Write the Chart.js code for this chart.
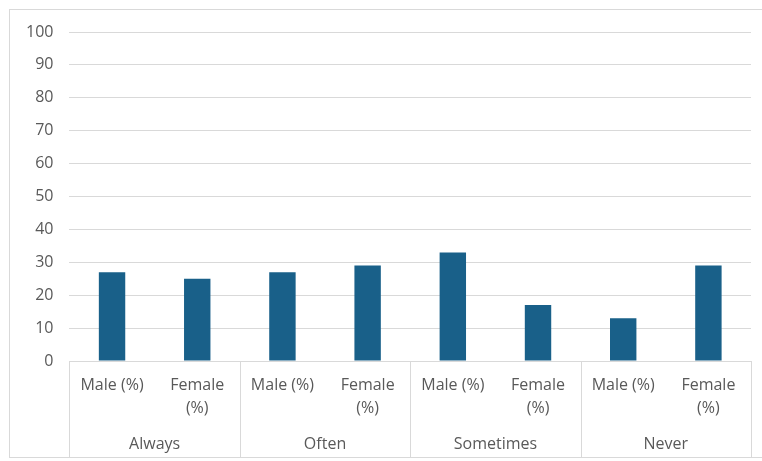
<!DOCTYPE html>
<html>
<head>
<meta charset="utf-8">
<script src="https://cdn.jsdelivr.net/npm/chart.js@4"></script>
<style>
  html, body { margin: 0; padding: 0; background: #fff; }
  #frame {
    position: absolute; left: 9px; top: 9px;
    width: 770px; height: 449px;
    border: 1px solid #d9d9d9;
    box-sizing: border-box;
  }
  #wrap { position: absolute; left: 0; top: 0; width: 762px; height: 461px; }
</style>
</head>
<body>
<div id="frame"></div>
<div id="wrap"><canvas id="freqChart" width="762" height="461"></canvas></div>
<script>
const groups = ['Always', 'Often', 'Sometimes', 'Never'];
const subLabels = [['Male (%)'], ['Female', '(%)']];
const maleValues = [27, 27, 33, 13];
const femaleValues = [25, 29, 17, 29];
const yTicks = [0, 10, 20, 30, 40, 50, 60, 70, 80, 90, 100];

// flatten group/sex into one category axis
const labels = [];
const values = [];
groups.forEach((g, i) => {
    labels.push(subLabels[0]);
    values.push(maleValues[i]);
    labels.push(subLabels[1]);
    values.push(femaleValues[i]);
});

const textColor = '#595959';
const font = { family: "'Open Sans', 'Noto Sans', sans-serif", size: 16, lineHeight: 1.45 };

// group labels and separators under the category axis
const groupAxis = {
    id: 'groupAxis',
    afterDraw(chart) {
        const ctx = chart.ctx;
        const x = chart.scales.x;
        const top = chart.chartArea.bottom;
        const bottom = 458;
        const half = (x.getPixelForValue(1) - x.getPixelForValue(0)) / 2;
        ctx.save();
        ctx.strokeStyle = '#d9d9d9';
        ctx.lineWidth = 1;
        for (let g = 0; g <= groups.length; g++) {
            const px = Math.round(x.getPixelForValue(g * 2) - half) + 0.5;
            ctx.beginPath();
            ctx.moveTo(px, top);
            ctx.lineTo(px, bottom);
            ctx.stroke();
        }
        ctx.fillStyle = textColor;
        ctx.font = font.size + 'px ' + font.family;
        ctx.textAlign = 'center';
        ctx.textBaseline = 'middle';
        groups.forEach((g, i) => {
            const cx = (x.getPixelForValue(i * 2) + x.getPixelForValue(i * 2 + 1)) / 2;
            ctx.fillText(g, cx, 444);
        });
        ctx.restore();
    }
};

new Chart(document.getElementById('freqChart').getContext('2d'), {
    type: 'bar',
    data: {
        labels: labels,
        datasets: [{
            data: values,
            backgroundColor: '#196089',
            categoryPercentage: 1,
            barPercentage: 0.31
        }]
    },
    options: {
        responsive: false,
        animation: false,
        layout: { padding: { top: 32, right: 11, left: 10, bottom: 0 } },
        plugins: { legend: { display: false }, tooltip: { enabled: false } },
        scales: {
            x: {
                grid: { display: false, drawTicks: false },
                border: { color: '#d9d9d9' },
                ticks: { color: textColor, font: font, maxRotation: 0, autoSkip: false, padding: 13 },
                afterFit(scale) { scale.height = 100; }
            },
            y: {
                min: 0, max: 100,
                afterBuildTicks(scale) { scale.ticks = yTicks.map(v => ({ value: v })); },
                grid: { color: '#d9d9d9', drawTicks: false },
                border: { display: false },
                ticks: { color: textColor, font: font, padding: 16 }
            }
        }
    },
    plugins: [groupAxis]
});
</script>
</body>
</html>
